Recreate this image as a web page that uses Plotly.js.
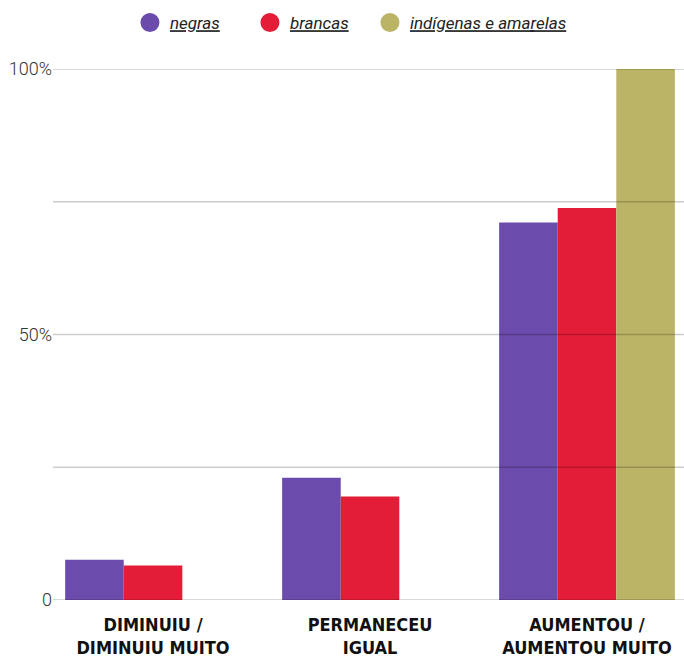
<!DOCTYPE html>
<html>
<head>
<meta charset="utf-8">
<script src="https://cdn.plot.ly/plotly-3.0.1.min.js"></script>
<style>
  html, body { margin: 0; padding: 0; background: #ffffff; }
  #chart { width: 684px; height: 656px; }
</style>
</head>
<body>
<div id="chart"></div>
<script>
// ---- data ----
const categories = ["DIMINUIU /<br>DIMINUIU MUITO", "PERMANECEU<br>IGUAL", "AUMENTOU /<br>AUMENTOU MUITO"];
const seriesNames = ["negras", "brancas", "indígenas e amarelas"];
const negras = [7.6, 23.0, 71.1];
const brancas = [6.5, 19.5, 73.8];
const indigenasAmarelas = [0, 0, 100];
const tickValues = [0, 50, 100];
const tickLabels = ["0", "50%", "100%"];
const gridValues = [0, 25, 50, 75, 100];

// ---- styles ----
const colors = ["#6b4bab", "#e31d38", "#bbb466"];
const seriesValues = [negras, brancas, indigenasAmarelas];

const traces = [];
seriesValues.forEach((vals, i) => {
  traces.push({
    type: "bar",
    x: categories,
    y: vals,
    name: seriesNames[i],
    marker: { color: colors[i] },
    showlegend: false,
    hoverinfo: "none"
  });
});
// legend entries drawn as circles
seriesNames.forEach((name, i) => {
  traces.push({
    type: "scatter",
    mode: "markers",
    x: [categories[0]],
    y: [null],
    name: name,
    marker: { color: colors[i], size: 16, symbol: "circle", line: { color: colors[i], width: 3 } },
    showlegend: true,
    hoverinfo: "none"
  });
});
// invisible spacer entry so the last legend label is not clipped
traces.push({
  type: "scatter", mode: "markers",
  x: [categories[0]], y: [null],
  name: " ",
  marker: { color: "rgba(0,0,0,0)", size: 1 },
  showlegend: true, hoverinfo: "none"
});

const shapes = gridValues.map(v => ({
  type: "line",
  xref: "paper", x0: 0, x1: 1,
  yref: "y", y0: v, y1: v,
  line: { color: "rgba(0,0,0,0.2)", width: 1.5 },
  layer: "above"
}));

const layout = {
  width: 684,
  height: 656,
  margin: { l: 53, r: 0, t: 69, b: 56, pad: 0 },
  paper_bgcolor: "#ffffff",
  plot_bgcolor: "#ffffff",
  barmode: "group",
  bargap: 0.19,
  bargroupgap: 0,
  showlegend: true,
  legend: {
    orientation: "h",
    xref: "container", yref: "container",
    x: 0.19, xanchor: "left",
    y: 1 - 23 / 656, yanchor: "middle",
    font: { family: "Roboto", size: 17, color: "#222222", style: "italic", lineposition: "under", weight: 400 },
    entrywidth: 75,
    bgcolor: "rgba(0,0,0,0)"
  },
  xaxis: {
    type: "category",
    range: [-0.461, 2.447],
    showgrid: false,
    zeroline: false,
    showline: false,
    ticks: "",
    ticklabelstandoff: 12,
    tickfont: { family: "DejaVu Sans Condensed, Roboto", size: 18, color: "#111111", weight: 700 },
    fixedrange: true
  },
  yaxis: {
    range: [0, 100],
    tickvals: tickValues,
    ticktext: tickLabels,
    showgrid: false,
    zeroline: false,
    showline: false,
    ticks: "",
    tickfont: { family: "Roboto", size: 18, color: "#333333", weight: 300 },
    fixedrange: true
  },
  shapes: shapes
};

Plotly.newPlot("chart", traces, layout, { displayModeBar: false, staticPlot: true });
</script>
</body>
</html>
